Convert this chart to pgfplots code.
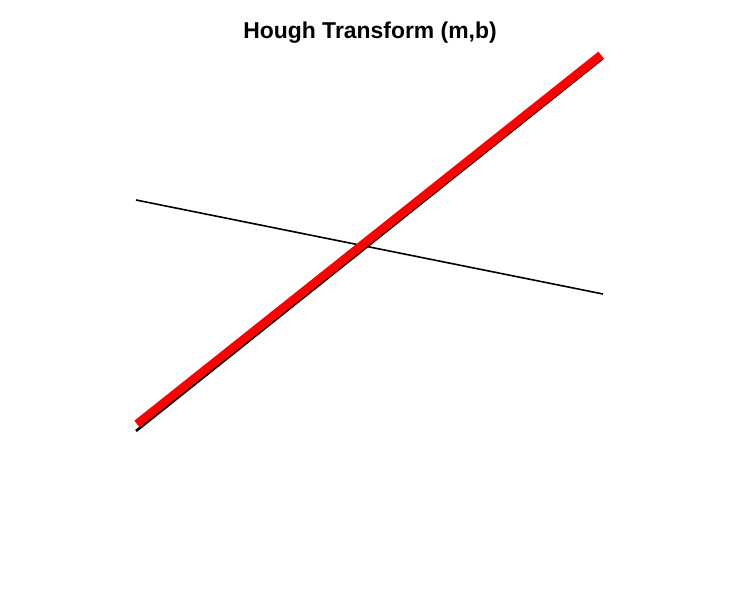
\documentclass[border=0pt]{standalone}
\usepackage{fontspec}
\setmainfont{Liberation Sans}
\usepackage{pgfplots}
\pgfplotsset{compat=1.18}
\begin{document}
\begin{tikzpicture}
\begin{axis}[
  scale only axis, width=741bp, height=614bp,
  xmin=0, xmax=741, ymin=0, ymax=614, y dir=reverse,
  axis line style={draw=none}, xtick=\empty, ytick=\empty,
  title={Hough Transform (m,b)},
  title style={at={(axis cs:370,39)}, anchor=center, font=\fontsize{23}{26}\selectfont\bfseries},
  clip=false,
]
\addplot[black, line width=1.6bp] coordinates {(136,200) (603,294)};
\addplot[black, line width=2.6bp] coordinates {(136,431) (603,58)};
\addplot[red, line width=8.5bp] coordinates {(137,424) (601,55)};
\end{axis}
\end{tikzpicture}
\end{document}
